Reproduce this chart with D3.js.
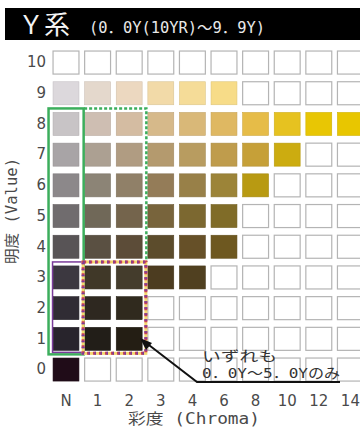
<!DOCTYPE html>
<html>
<head>
<meta charset="utf-8">
<script src="https://cdn.jsdelivr.net/npm/d3@7"></script>
<style>
  body { margin: 0; background: #fff; }
  svg { display: block; }
  .tick text { font-family: "DejaVu Sans", sans-serif; font-size: 15px; fill: #4a4a4a; }
  .jp { font-family: "DejaVu Sans Mono", "Noto Sans CJK JP", monospace; }
</style>
</head>
<body>
<svg width="360" height="428"></svg>
<script>
const chroma = ["N", "1", "2", "3", "4", "6", "8", "10", "12", "14"];
const values = [10, 9, 8, 7, 6, 5, 4, 3, 2, 1, 0];

// swatch colours for each value row, in chroma order (null = no colour)
const v10 = [];
const v9 = ["#dcd8dc", "#e4d8cc", "#ecd8c0", "#f2daa8", "#f5dc98", "#f7dc88"];
const v8 = ["#c8c4c6", "#cebeb2", "#d4bca2", "#d6b98a", "#d9b878", "#dfb862", "#e6bc48", "#e6c220", "#e8c604", "#e8c600"];
const v7 = ["#a8a4a6", "#aca092", "#b09c82", "#b49a6e", "#b89c60", "#bf9c4c", "#c6a038", "#ccac10"];
const v6 = ["#8c888a", "#8c8476", "#908068", "#947c58", "#988048", "#9c8438", "#b89a12"];
const v5 = ["#706c6e", "#706858", "#74644c", "#78643c", "#7c6830", "#806c28"];
const v4 = ["#585456", "#5a5042", "#5c4c38", "#5c4c2c", "#665028", "#6e5820"];
const v3 = ["#3c3840", "#403828", "#443c2c", "#4c3c20", "#504020"];
const v2 = ["#302c34", "#2e2820", "#302a1e"];
const v1 = ["#28242c", "#221e18", "#241e14"];
const v0 = ["#200c18"];
const rowsByValue = [v10, v9, v8, v7, v6, v5, v4, v3, v2, v1, v0];

const svg = d3.select("svg");

const cells = [];
values.forEach((v, i) => {
  chroma.forEach((c, j) => {
    cells.push({ value: v, chroma: c, color: rowsByValue[i][j] || null });
  });
});

const x = d3.scaleBand().domain(chroma).range([50.2, 366.2])
  .paddingInner(0.18).paddingOuter(0.09);
const y = d3.scaleBand().domain(values).range([47.2, 384.9])
  .paddingInner(0.25).paddingOuter(0.125);

// title bar
svg.append("rect").attr("x", 5).attr("y", 8).attr("width", 355).attr("height", 32).attr("fill", "#000");
svg.append("text").attr("class", "jp").attr("x", 18).attr("y", 34)
  .attr("font-size", 26).attr("fill", "#f4f4f4").text("Ｙ系");
svg.append("text").attr("class", "jp").attr("x", 89).attr("y", 33)
  .attr("font-size", 15).attr("fill", "#e8e8e8")
  .attr("textLength", 176).attr("lengthAdjust", "spacingAndGlyphs")
  .text("(0．0Y(10YR)～9．9Y)");

// swatches
svg.append("g").selectAll("rect").data(cells).join("rect")
  .attr("x", d => x(d.chroma))
  .attr("y", d => y(d.value))
  .attr("width", x.bandwidth())
  .attr("height", y.bandwidth())
  .attr("fill", d => d.color || "#fff")
  .attr("stroke", d => d.color ? d3.color(d.color).darker(0.3) : "#b4b4b4")
  .attr("stroke-width", d => d.color ? 0.6 : 1.2);

// axes
const yAxis = svg.append("g").attr("transform", "translate(50,0)")
  .call(d3.axisLeft(y).tickSize(0).tickPadding(4));
yAxis.select(".domain").remove();

const xAxis = svg.append("g").attr("transform", "translate(0,385)")
  .call(d3.axisBottom(x).tickSize(0).tickPadding(10));
xAxis.select(".domain").remove();

svg.append("text").attr("class", "jp").attr("x", 128).attr("y", 424)
  .attr("font-size", 15).attr("fill", "#4a4a4a")
  .attr("textLength", 132).attr("lengthAdjust", "spacingAndGlyphs")
  .text("彩度 (Chroma)");

svg.append("text").attr("class", "jp")
  .attr("transform", "translate(17,211) rotate(-90)")
  .attr("text-anchor", "middle")
  .attr("font-size", 15).attr("fill", "#4a4a4a")
  .attr("textLength", 106).attr("lengthAdjust", "spacingAndGlyphs")
  .text("明度 (Value)");

// highlight frames
const left = x("N"), c1 = x("1"), c3 = x("3");
const top8 = y(8), top3 = y(3), bot1 = y(1) + y.bandwidth();

svg.append("path")
  .attr("d", `M${c1 - 0.5},${top8 - 4}H${c3 - 1.5}V${top3 - 4}`)
  .attr("fill", "none").attr("stroke", "#3cae5c").attr("stroke-width", 2.5)
  .attr("stroke-dasharray", "3,2");
svg.append("rect")
  .attr("x", left - 4.5).attr("y", top8 - 4)
  .attr("width", c1 - left + 3.5).attr("height", bot1 - top8 + 8)
  .attr("fill", "none").attr("stroke", "#3cae5c").attr("stroke-width", 2.5);

svg.append("rect")
  .attr("x", left - 0.5).attr("y", top3 - 4)
  .attr("width", c1 - left - 1).attr("height", bot1 - top3 + 6)
  .attr("fill", "none").attr("stroke", "#7a3c9a").attr("stroke-width", 1.5);

const red = svg.append("g");
[["#f4d870", null, 3], ["#c8405a", "3,3", 3], ["#7a3c9a", "1.5,4.5", 3]].forEach(([col, dash, w]) => {
  red.append("rect")
    .attr("x", c1 - 1.5).attr("y", top3 - 4)
    .attr("width", c3 - c1 - 0.5).attr("height", bot1 - top3 + 7)
    .attr("fill", "none").attr("stroke", col).attr("stroke-width", w)
    .attr("stroke-dasharray", dash);
});

// annotation
svg.append("path")
  .attr("d", "M145,342L197,382H340")
  .attr("fill", "none").attr("stroke", "#111").attr("stroke-width", 2);
svg.append("path")
  .attr("d", "M140,338L152,343L146,350Z")
  .attr("fill", "#111");
svg.append("text").attr("class", "jp").attr("x", 202).attr("y", 361)
  .attr("font-size", 14).attr("fill", "#333")
  .attr("textLength", 75).attr("lengthAdjust", "spacingAndGlyphs")
  .text("いずれも");
svg.append("text").attr("class", "jp").attr("x", 202).attr("y", 378)
  .attr("font-size", 14).attr("fill", "#333")
  .attr("textLength", 138).attr("lengthAdjust", "spacingAndGlyphs")
  .text("0．0Y～5．0Yのみ");
</script>
</body>
</html>
